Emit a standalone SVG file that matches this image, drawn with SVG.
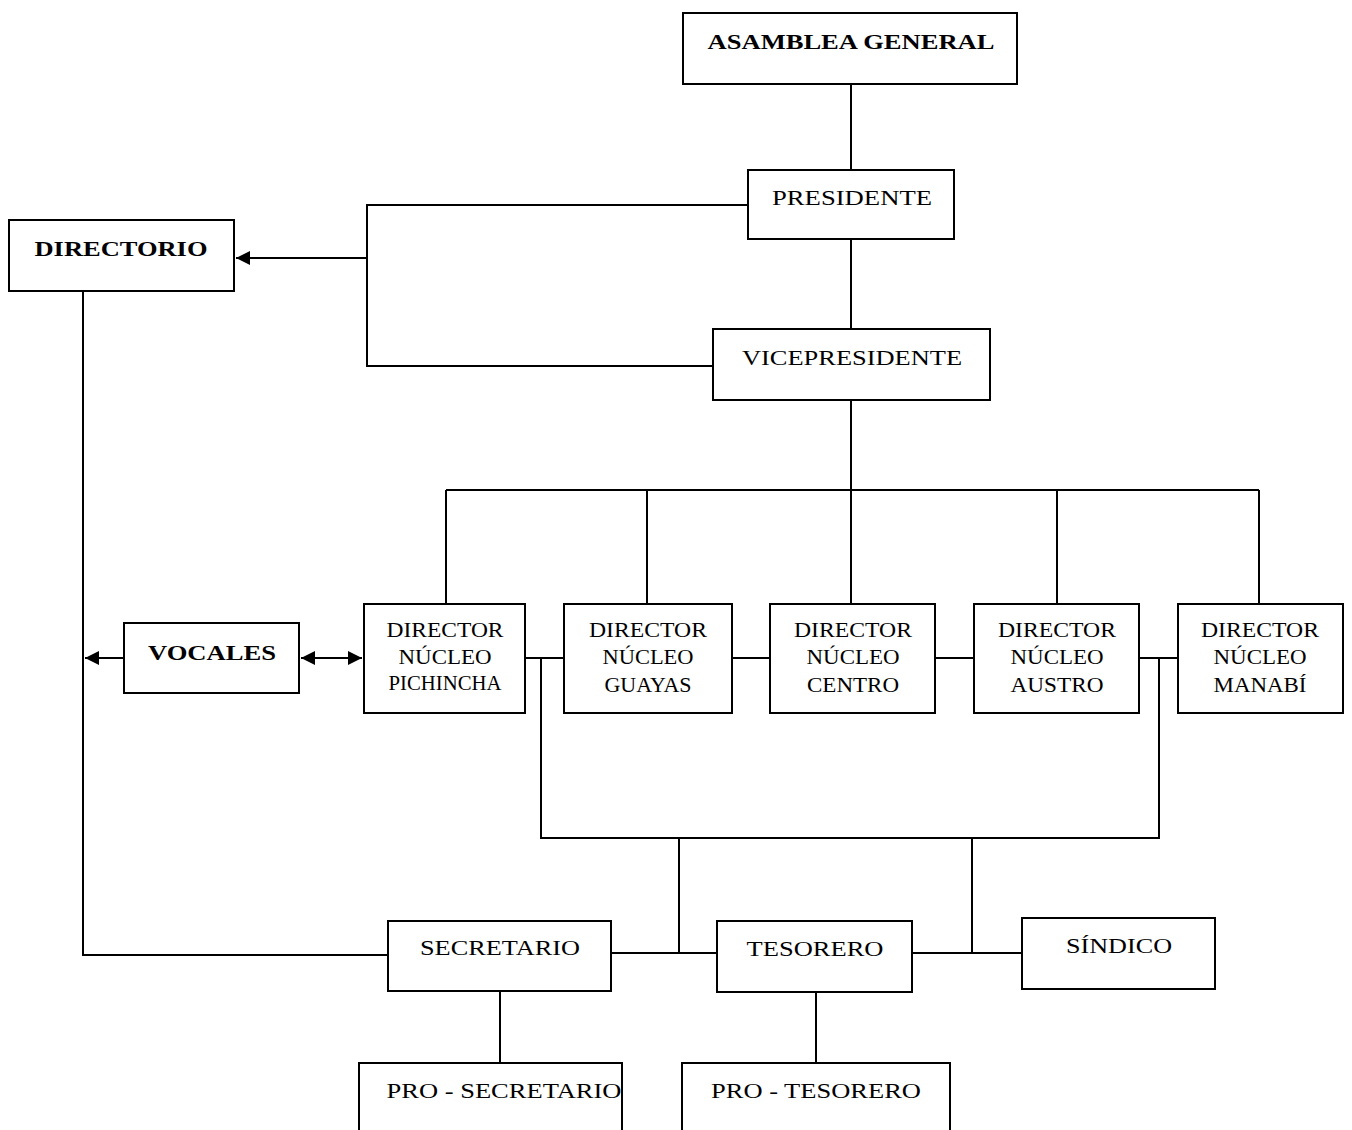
<svg xmlns="http://www.w3.org/2000/svg" width="1352" height="1130" viewBox="0 0 1352 1130">
<style>
.box{fill:#fff;stroke:#000;stroke-width:2}
.t{font-family:"Liberation Serif","Times New Roman",serif;font-size:21px;fill:#000;text-anchor:middle}
.b{font-weight:bold}
.c{fill:none;stroke:#000;stroke-width:2}
</style>
<defs>
<marker id="ah" viewBox="0 0 10 10" refX="10" refY="5" markerWidth="7" markerHeight="7" orient="auto-start-reverse" markerUnits="strokeWidth">
<path d="M0,0 L10,5 L0,10 z" fill="#000"/>
</marker>
</defs>
<rect width="1352" height="1130" fill="#fff"/>
<g id="connectors">
<path class="c" d="M851,85 V170"/>
<path class="c" d="M851,239 V329"/>
<path class="c" d="M748,205 H367 V366 H713"/>
<path class="c" d="M367,258 H236" marker-end="url(#ah)"/>
<path class="c" d="M851,400 V490"/>
<path class="c" d="M446,490 H1259"/>
<path class="c" d="M446,490 V604 M647,490 V604 M851,490 V604 M1057,490 V604 M1259,490 V604"/>
<path class="c" d="M525,658 H564 M732,658 H770 M935,658 H974 M1139,658 H1178"/>
<path class="c" d="M541,658 V838 H1159 V658"/>
<path class="c" d="M679,838 V953 M972,838 V953"/>
<path class="c" d="M611,953 H717 M912,953 H1022"/>
<path class="c" d="M83,291 V955 H388"/>
<path class="c" d="M123,658 H85" marker-end="url(#ah)"/>
<path class="c" d="M301,658 H362" marker-start="url(#ah)" marker-end="url(#ah)"/>
<path class="c" d="M500,991 V1063 M816,992 V1063"/>
</g>
<g id="asamblea"><rect class="box" x="683" y="13" width="334" height="71"/><text class="t b" transform="translate(851,49) scale(1.25,1)" textLength="229.6" lengthAdjust="spacingAndGlyphs">ASAMBLEA GENERAL</text></g>
<g id="presidente"><rect class="box" x="748" y="170" width="206" height="69"/><text class="t" transform="translate(852,205) scale(1.25,1)" textLength="128" lengthAdjust="spacingAndGlyphs">PRESIDENTE</text></g>
<g id="vicepresidente"><rect class="box" x="713" y="329" width="277" height="71"/><text class="t" transform="translate(852,365) scale(1.25,1)" textLength="176" lengthAdjust="spacingAndGlyphs">VICEPRESIDENTE</text></g>
<g id="directorio"><rect class="box" x="9" y="220" width="225" height="71"/><text class="t b" transform="translate(121,256) scale(1.25,1)" textLength="138.4" lengthAdjust="spacingAndGlyphs">DIRECTORIO</text></g>
<g id="vocales"><rect class="box" x="124" y="623" width="175" height="70"/><text class="t b" transform="translate(212,660) scale(1.25,1)" textLength="102.4" lengthAdjust="spacingAndGlyphs">VOCALES</text></g>
<g id="pichincha"><rect class="box" x="364" y="604" width="161" height="109"/>
<text class="t" transform="translate(445,637) scale(1.25,1)" textLength="93.6" lengthAdjust="spacingAndGlyphs">DIRECTOR</text>
<text class="t" transform="translate(445,664) scale(1.25,1)" textLength="74.4" lengthAdjust="spacingAndGlyphs">NÚCLEO</text>
<text class="t" transform="translate(445,690) scale(1.25,1)" font-size="19" textLength="90.4" lengthAdjust="spacingAndGlyphs">PICHINCHA</text></g>
<g id="guayas"><rect class="box" x="564" y="604" width="168" height="109"/>
<text class="t" transform="translate(648,637) scale(1.25,1)" textLength="94.4" lengthAdjust="spacingAndGlyphs">DIRECTOR</text>
<text class="t" transform="translate(648,664) scale(1.25,1)" textLength="72.8" lengthAdjust="spacingAndGlyphs">NÚCLEO</text>
<text class="t" transform="translate(648,692) scale(1.25,1)" textLength="69.6" lengthAdjust="spacingAndGlyphs">GUAYAS</text></g>
<g id="centro"><rect class="box" x="770" y="604" width="165" height="109"/>
<text class="t" transform="translate(853,637) scale(1.25,1)" textLength="94.4" lengthAdjust="spacingAndGlyphs">DIRECTOR</text>
<text class="t" transform="translate(853,664) scale(1.25,1)" textLength="74.4" lengthAdjust="spacingAndGlyphs">NÚCLEO</text>
<text class="t" transform="translate(853,692) scale(1.25,1)" textLength="73.6" lengthAdjust="spacingAndGlyphs">CENTRO</text></g>
<g id="austro"><rect class="box" x="974" y="604" width="165" height="109"/>
<text class="t" transform="translate(1057,637) scale(1.25,1)" textLength="94.4" lengthAdjust="spacingAndGlyphs">DIRECTOR</text>
<text class="t" transform="translate(1057,664) scale(1.25,1)" textLength="74.4" lengthAdjust="spacingAndGlyphs">NÚCLEO</text>
<text class="t" transform="translate(1057,692) scale(1.25,1)" textLength="74.4" lengthAdjust="spacingAndGlyphs">AUSTRO</text></g>
<g id="manabi"><rect class="box" x="1178" y="604" width="165" height="109"/>
<text class="t" transform="translate(1260,637) scale(1.25,1)" textLength="94.4" lengthAdjust="spacingAndGlyphs">DIRECTOR</text>
<text class="t" transform="translate(1260,664) scale(1.25,1)" textLength="74.4" lengthAdjust="spacingAndGlyphs">NÚCLEO</text>
<text class="t" transform="translate(1260,692) scale(1.25,1)" textLength="74.4" lengthAdjust="spacingAndGlyphs">MANABÍ</text></g>
<g id="secretario"><rect class="box" x="388" y="921" width="223" height="70"/><text class="t" transform="translate(500,955) scale(1.25,1)" textLength="128" lengthAdjust="spacingAndGlyphs">SECRETARIO</text></g>
<g id="tesorero"><rect class="box" x="717" y="921" width="195" height="71"/><text class="t" transform="translate(815,956) scale(1.25,1)" textLength="109.6" lengthAdjust="spacingAndGlyphs">TESORERO</text></g>
<g id="sindico"><rect class="box" x="1022" y="918" width="193" height="71"/><text class="t" transform="translate(1119,953) scale(1.25,1)" textLength="84.8" lengthAdjust="spacingAndGlyphs">SÍNDICO</text></g>
<g id="prosecretario"><path class="box" d="M359,1140 V1063 H622 V1140"/><text class="t" transform="translate(504,1098) scale(1.25,1)" textLength="188" lengthAdjust="spacingAndGlyphs">PRO - SECRETARIO</text></g>
<g id="protesorero"><path class="box" d="M682,1140 V1063 H950 V1140"/><text class="t" transform="translate(816,1098) scale(1.25,1)" textLength="168" lengthAdjust="spacingAndGlyphs">PRO - TESORERO</text></g>
</svg>
